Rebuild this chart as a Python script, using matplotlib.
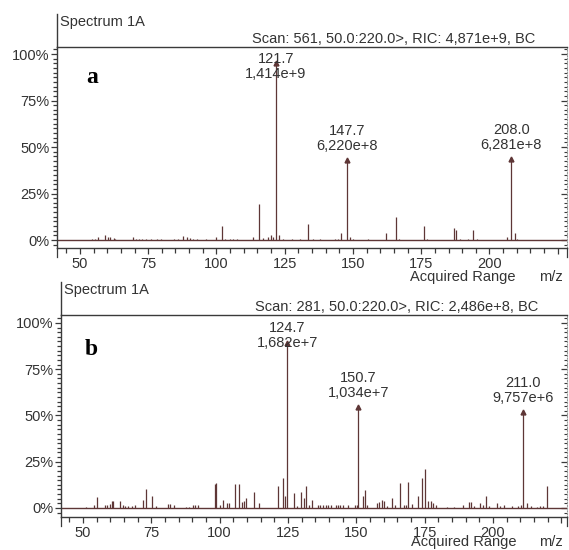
import matplotlib
matplotlib.use("Agg")
import matplotlib.pyplot as plt
from matplotlib.ticker import MultipleLocator

plt.rcParams['font.family'] = ['Liberation Sans', 'DejaVu Sans']
plt.rcParams['font.size'] = 10.5

# spectrum a: m/z and relative abundance (%)
mz_a = [54.6, 55.5, 56.7, 59.2, 60.3, 61.0, 62.3, 63.0, 69.5, 70.5, 71.7, 72.9,
        74.1, 75.9, 78.4, 79.6, 84.5, 86.0, 87.6, 89.3, 90.3, 91.5, 92.7, 96.3,
        100.0, 101.9, 103.1, 104.9, 106.2, 107.6, 113.5, 115.7, 117.2, 119.0,
        119.9, 120.6, 121.7, 122.8, 124.5, 127.5, 130.6, 133.6, 135.5, 137.9,
        143.4, 144.4, 145.6, 147.7, 149.1, 150.1, 155.6, 162.0, 165.7, 166.9,
        176.1, 177.3, 187.1, 187.9, 189.2, 192.2, 194.0, 195.3, 206.3, 208.0,
        209.3, 210.2]
rel_a = [0.8, 0.8, 1.5, 2.5, 1.8, 1.8, 1.0, 0.8, 1.5, 0.8, 0.8, 0.6,
         0.6, 0.6, 0.6, 0.6, 0.6, 0.6, 2.0, 1.5, 1.3, 0.8, 0.6, 0.6,
         1.8, 7.5, 0.6, 0.6, 0.8, 0.6, 1.5, 19.4, 1.0, 1.8,
         2.7, 1.8, 95.0, 2.7, 0.4, 0.4, 0.4, 8.6, 0.4, 0.4,
         0.5, 0.5, 3.9, 43.0, 1.4, 0.5, 0.4, 3.6, 12.2, 0.5,
         7.5, 0.5, 6.6, 5.4, 0.5, 0.4, 5.4, 0.5, 1.8, 43.5,
         4.0, 0.8]
lab_mz_a = [121.7, 147.7, 208.0]
lab_abund_a = ["1,414e+9", "6,220e+8", "6,281e+8"]
scan_a = "Scan: 561, 50.0:220.0>, RIC: 4,871e+9, BC"

# spectrum b
mz_b = [51.1, 54.1, 55.0, 58.0, 58.9, 59.9, 60.7, 61.1, 63.5, 64.5, 65.4, 66.6,
        67.8, 69.0, 72.1, 72.9, 75.4, 76.7, 81.0, 81.8, 83.3, 87.7, 88.9, 90.1,
        91.0, 92.2, 98.3, 98.8, 100.1, 101.1, 102.6, 103.4, 105.6, 107.2, 108.1,
        108.9, 109.6, 112.6, 114.5, 121.5, 123.0, 123.8, 124.7, 127.2, 128.2,
        129.7, 130.9, 131.6, 132.8, 133.7, 135.9, 136.7, 137.9, 138.8, 139.8,
        140.7, 142.6, 143.2, 144.0, 145.0, 147.1, 149.5, 150.2, 150.7, 152.3,
        153.2, 154.0, 157.4, 158.3, 159.3, 160.1, 161.3, 162.9, 164.2, 166.0,
        167.5, 168.2, 169.0, 170.3, 172.7, 174.2, 175.0, 176.3, 177.2, 178.2,
        179.0, 183.1, 185.7, 189.1, 191.2, 192.1, 193.1, 195.3, 196.2, 197.5,
        198.7, 201.4, 202.6, 204.2, 206.9, 209.3, 210.2, 211.0, 212.3, 213.8,
        216.2, 217.2, 218.4, 219.9]
rel_b = [0.5, 1.8, 6.0, 1.8, 1.4, 2.2, 3.6, 4.0, 4.0, 1.4, 0.9, 0.9,
         1.1, 1.4, 4.5, 10.0, 6.7, 0.9, 2.2, 2.2, 1.4, 0.5, 0.5, 1.8,
         1.4, 1.4, 13.0, 13.3, 1.4, 4.5, 2.7, 2.7, 13.0, 13.0, 3.2,
         4.0, 5.4, 8.5, 2.7, 11.7, 16.2, 6.7, 89.0, 8.1, 0.9,
         8.7, 5.4, 11.7, 1.4, 4.5, 1.4, 1.4, 1.8, 1.8, 1.8,
         1.8, 1.4, 1.4, 1.4, 1.8, 1.8, 1.8, 1.8, 54.5, 6.3,
         9.9, 1.4, 2.7, 3.2, 4.5, 3.6, 0.9, 5.4, 1.4, 13.5,
         1.4, 1.4, 14.0, 2.2, 6.3, 16.2, 21.3, 4.0, 4.0, 2.7,
         1.8, 0.5, 0.5, 1.8, 3.2, 3.2, 0.9, 2.7, 1.4, 6.3,
         0.9, 2.7, 0.9, 1.8, 0.9, 0.9, 1.8, 52.0, 2.7, 0.9,
         0.5, 0.9, 0.9, 11.7]
lab_mz_b = [124.7, 150.7, 211.0]
lab_abund_b = ["1,682e+7", "1,034e+7", "9,757e+6"]
scan_b = "Scan: 281, 50.0:220.0>, RIC: 2,486e+8, BC"

xticks = [50, 75, 100, 125, 150, 175, 200, 225]
xtick_labels = ["50", "75", "100", "125", "150", "175", "200", ""]
yticks = [0, 25, 50, 75, 100]
ytick_labels = ["0%", "25%", "50%", "75%", "100%"]

peak_col = '#5e3636'
axis_col = '#3a3a3a'
text_col = '#333333'


def draw_panel(ax, mz, rel, lab_mz, lab_abund, letter, scan, xlim, ylim,
               letter_pos, scan_x, range_y):
    ax.vlines(mz, 0, rel, color=peak_col, lw=0.9)
    ax.axhline(0, color=peak_col, lw=1.0)
    for m, ab in zip(lab_mz, lab_abund):
        h = rel[mz.index(m)]
        ax.plot([m], [h], marker='^', ms=3.5, color=peak_col)
        txt = f"{m:.1f}\n{ab}"
        if h > 80:
            ax.text(m, 101, txt, ha='center', va='top', color=text_col,
                    linespacing=1.05)
        else:
            ax.annotate(txt, (m, h), xytext=(0, 5), textcoords='offset points',
                        ha='center', va='bottom', color=text_col, linespacing=1.1)

    ax.set_xlim(xlim)
    ax.set_ylim(ylim)
    ax.set_xticks(xticks)
    ax.set_xticklabels(xtick_labels)
    ax.xaxis.set_minor_locator(MultipleLocator(5))
    ax.set_yticks(yticks)
    ax.set_yticklabels(ytick_labels)
    ax.yaxis.set_minor_locator(MultipleLocator(2.5))
    ax.tick_params(axis='x', which='major', direction='out', length=4.5, width=0.9,
                   color=axis_col, labelcolor=text_col, pad=2)
    ax.tick_params(axis='x', which='minor', direction='out', length=3.5, width=0.9,
                   color=axis_col)
    ax.tick_params(axis='y', which='major', direction='out', length=4.5, width=0.9,
                   color=axis_col, labelcolor=text_col, pad=1)
    ax.tick_params(axis='y', which='minor', direction='out', length=3, width=0.9,
                   color=axis_col)
    for s in ['left', 'top', 'bottom']:
        ax.spines[s].set_color(axis_col)
        ax.spines[s].set_linewidth(1.0)
    ax.spines['right'].set_visible(False)

    # right edge: dotted line with inward ticks
    sec = ax.secondary_yaxis('right')
    sec.set_yticks(yticks)
    sec.yaxis.set_minor_locator(MultipleLocator(2.5))
    sec.tick_params(axis='y', which='major', direction='in', length=4.5,
                    width=0.9, color=axis_col, labelright=False)
    sec.tick_params(axis='y', which='minor', direction='in', length=2.5,
                    width=0.8, color=axis_col)
    sec.spines['right'].set_color('#9a9a9a')
    sec.spines['right'].set_linestyle((0, (1, 1.5)))

    # left line runs up past the top border; long end ticks on the x axis
    ax.plot([0, 0], [1, 1.165], transform=ax.transAxes, clip_on=False,
            color=axis_col, lw=1.0)
    ax.plot([0, 0], [0, -0.045], transform=ax.transAxes, clip_on=False,
            color=axis_col, lw=0.9)
    ax.plot([1, 1], [0, -0.045], transform=ax.transAxes, clip_on=False,
            color=axis_col, lw=0.9)

    ax.text(0.006, 1.124, "Spectrum 1A", transform=ax.transAxes, ha='left',
            va='center', color=text_col)
    ax.text(scan_x, 1.042, scan, transform=ax.transAxes, ha='right',
            va='center', color=text_col)
    ax.text(letter_pos[0], letter_pos[1], letter, transform=ax.transAxes,
            ha='center', va='center', fontsize=17, fontweight='bold',
            family='Liberation Serif', color='black')
    ax.text(0.795, range_y, "Acquired Range", transform=ax.transAxes,
            ha='center', va='center', color=text_col)
    ax.text(0.968, range_y, "m/z", transform=ax.transAxes,
            ha='center', va='center', color=text_col)


W, H = 569, 550
fig = plt.figure(figsize=(W / 100, H / 100), dpi=100)
ax_a = fig.add_axes([57 / W, 1 - 248 / H, 510 / W, 201 / H])
ax_b = fig.add_axes([61 / W, 1 - 517 / H, 506 / W, 202 / H])

draw_panel(ax_a, mz_a, rel_a, lab_mz_a, lab_abund_a, "a", scan_a,
           (41.6, 228.4), (-4.3, 103.8), (0.069, 0.846), 0.937, -0.142)
draw_panel(ax_b, mz_b, rel_b, lab_mz_b, lab_abund_b, "b", scan_b,
           (41.95, 227.1), (-4.9, 104.3), (0.059, 0.827), 0.943, -0.122)

fig.savefig("out.png", dpi=100)
